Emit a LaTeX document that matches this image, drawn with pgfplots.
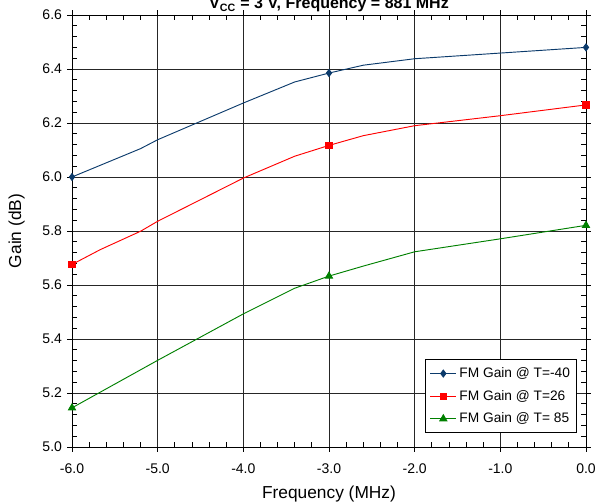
\documentclass[border=0pt]{standalone}
\usepackage{fontspec}
\setmainfont{Liberation Sans}
\usepackage{pgfplots}
\pgfplotsset{compat=1.18}
\definecolor{cblue}{HTML}{0B3A6B}
\definecolor{cred}{HTML}{FF0000}
\definecolor{cgreen}{HTML}{008000}

\begin{document}
\begin{tikzpicture}
\begin{axis}[
    name=ax,
    scale only axis, width=385.5pt, height=324pt,
    xmin=-6, xmax=0, ymin=5.0, ymax=6.6,
    xtick={-6,-5,...,0}, ytick={5.0,5.2,...,6.6},
    minor x tick num=4, minor y tick num=4,
    tick align=inside, minor tick length=3.5pt, major tick length=0pt,
    extra x ticks={-6,-5,...,0}, extra x tick labels={},
    extra y ticks={5.0,5.2,...,6.6}, extra y tick labels={},
    extra tick style={tick align=outside, major tick length=3.5pt, grid=none},
    grid=major, major grid style={black!85, line width=0.6pt},
    axis line style={black, line width=0.7pt},
    tick style={black, line width=0.6pt},
    /pgf/number format/assume math mode=true,
    /pgf/number format/fixed, /pgf/number format/fixed zerofill,
    /pgf/number format/precision=1,
    ticklabel style={font=\fontsize{10.5}{12}\selectfont},
    xticklabel style={yshift=-9pt},
    yticklabel style={xshift=-4pt},
    xlabel={Frequency (MHz)}, ylabel={Gain (dB)},
    label style={font=\fontsize{13}{15}\selectfont},
    xlabel style={yshift=1.5pt},
    ylabel shift=3pt,
    legend style={at={(rel axis cs:0.9825,0.032)}, anchor=south east,
        draw=black, line width=0.6pt, fill=white,
        font=\fontsize{10.3}{12}\selectfont, row sep=4pt,
        inner xsep=3pt, inner ysep=4pt},
    legend cell align=left,
    legend image code/.code={\draw[mark indices={2}] plot coordinates {(0pt,0pt) (9.75pt,0pt) (19.5pt,0pt)};},
]
\addplot[cblue, line width=0.7pt, mark=diamond*, mark size=2.6pt, mark indices={1,6,10}]
  coordinates {(-6,6.000) (-5.2,6.105) (-5,6.138) (-4,6.274) (-3.4,6.352) (-3,6.385)
               (-2.6,6.414) (-2,6.438) (-1,6.459) (0,6.480)};
\addlegendentry{FM Gain @ T=-40}
\addplot[cred, line width=0.7pt, mark=square*, mark size=2.4pt, mark indices={1,7,11}]
  coordinates {(-6,5.676) (-5.67,5.731) (-5.2,5.799) (-5,5.836) (-4,5.996) (-3.4,6.077)
               (-3,6.117) (-2.6,6.153) (-2,6.190) (-1,6.227) (0,6.267)};
\addlegendentry{FM Gain @ T=26}
\addplot[cgreen, line width=0.7pt, mark=triangle*, mark size=3pt, mark indices={1,5,9}]
  coordinates {(-6,5.145) (-5,5.321) (-4,5.493) (-3.4,5.588) (-3,5.633)
               (-2.6,5.670) (-2,5.723) (-1,5.771) (0,5.821)};
\addlegendentry{FM Gain @ T= 85}
\end{axis}
\node[anchor=base, font=\bfseries\fontsize{12}{14}\selectfont] at ([yshift=4.5pt]ax.north)
  {V\textsubscript{CC} = 3 V, Frequency = 881 MHz};
\pgfresetboundingbox
\path (ax.south west) ++(-54pt,-41.25pt) rectangle ++(449.25pt,376.5pt);
\end{tikzpicture}
\end{document}
